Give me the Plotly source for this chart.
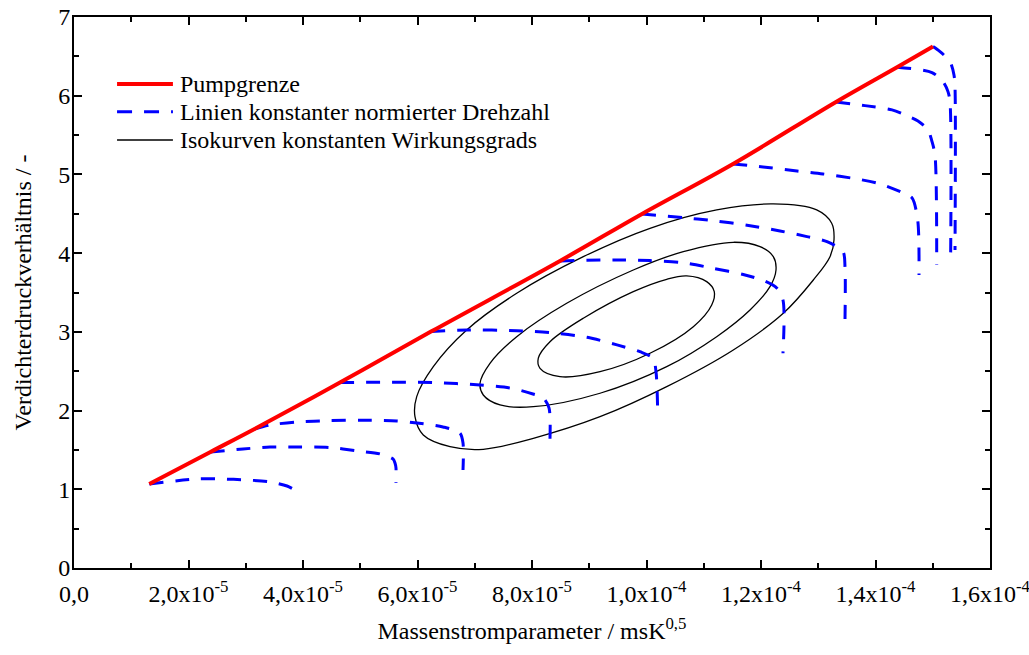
import numpy as np
import plotly.graph_objects as go

E5 = 1e-5  # x values below are given in units of 1e-5

# Pumpgrenze (surge line), through the left end of every speed line
surge_x = [1.315, 2.384, 3.153, 4.646, 6.236, 8.489, 9.921, 11.511, 13.310, 14.376, 15.004]
surge_y = [1.067, 1.474, 1.766, 2.357, 3.003, 3.901, 4.498, 5.133, 5.921, 6.362, 6.624]

# Lines of constant normalised speed
n1_x = [1.315, 2.148, 2.550, 3.022, 3.424, 3.721, 3.860, 3.948]
n1_y = [1.067, 1.131, 1.131, 1.118, 1.093, 1.042, 0.991, 0.966]
n2_x = [2.384, 2.952, 3.424, 3.895, 4.472, 4.943, 5.345, 5.572, 5.607, 5.624, 5.624]
n2_y = [1.474, 1.512, 1.537, 1.537, 1.531, 1.487, 1.449, 1.385, 1.334, 1.271, 1.080]
n3_x = [3.153, 3.424, 3.895, 4.472, 5.048, 5.642, 5.991, 6.445, 6.742, 6.795, 6.795]
n3_y = [1.766, 1.817, 1.855, 1.872, 1.877, 1.868, 1.842, 1.792, 1.715, 1.588, 1.245]
n4_x = [4.646, 5.694, 6.271, 7.092, 7.616, 8.017, 8.192, 8.297, 8.309]
n4_y = [2.357, 2.360, 2.355, 2.325, 2.287, 2.211, 2.164, 2.033, 1.525]
n5_x = [6.236, 6.865, 7.738, 8.314, 8.961, 9.485, 9.886, 10.114, 10.166, 10.195]
n5_y = [3.003, 3.024, 3.015, 2.990, 2.931, 2.834, 2.748, 2.665, 2.494, 2.008]
n6_x = [8.489, 9.485, 10.061, 10.638, 11.162, 11.721, 12.070, 12.279, 12.384, 12.384]
n6_y = [3.901, 3.914, 3.905, 3.879, 3.808, 3.723, 3.643, 3.554, 3.405, 2.728]
n7_x = [9.921, 10.638, 11.162, 11.756, 12.332, 12.803, 13.153, 13.432, 13.467, 13.467]
n7_y = [4.498, 4.451, 4.413, 4.355, 4.282, 4.210, 4.146, 4.019, 3.828, 3.151]
n8_x = [11.511, 12.035, 12.629, 13.083, 13.677, 14.079, 14.480, 14.638, 14.737, 14.760]
n8_y = [5.133, 5.095, 5.044, 5.006, 4.942, 4.880, 4.765, 4.702, 4.422, 3.723]
n9_x = [13.310, 13.817, 14.288, 14.515, 14.742, 14.917, 14.987, 15.039, 15.069]
n9_y = [5.921, 5.874, 5.820, 5.756, 5.680, 5.565, 5.417, 5.248, 3.850]
n10_x = [14.376, 14.987, 15.179, 15.266, 15.301, 15.313]
n10_y = [6.362, 6.294, 6.179, 6.052, 5.925, 4.003]
n11_x = [15.004, 15.127, 15.301, 15.371, 15.389, 15.389]
n11_y = [6.624, 6.560, 6.433, 6.264, 6.099, 4.041]

# Isolines of constant efficiency (closed curves)
eta_outer_x = [12.215, 12.973, 13.235, 13.275, 13.205, 12.914, 12.389, 11.516, 10.353, 9.188,
               8.023, 7.149, 6.568, 6.101, 5.956, 5.986, 6.276, 6.859, 7.733, 8.896, 10.061,
               11.226, 12.215]
eta_outer_y = [4.625, 4.549, 4.380, 4.168, 3.955, 3.659, 3.236, 2.770, 2.304, 1.922,
               1.648, 1.508, 1.541, 1.690, 1.922, 2.177, 2.558, 3.024, 3.490, 3.955, 4.316,
               4.549, 4.625]
eta_mid_x = [11.516, 11.983, 12.215, 12.262, 12.157, 11.808, 11.226, 10.353, 9.188, 8.023,
             7.441, 7.149, 7.092, 7.266, 7.733, 8.606, 9.769, 10.643, 11.516]
eta_mid_y = [4.138, 4.082, 3.955, 3.786, 3.574, 3.278, 2.939, 2.558, 2.220, 2.049,
             2.071, 2.198, 2.347, 2.601, 2.939, 3.363, 3.786, 4.019, 4.138]
eta_inner_x = [10.702, 11.051, 11.184, 11.139, 10.818, 10.061, 9.188, 8.489, 8.140, 8.110,
               8.314, 8.896, 9.769, 10.353, 10.702]
eta_inner_y = [3.710, 3.638, 3.511, 3.342, 3.066, 2.728, 2.494, 2.431, 2.537, 2.665,
               2.875, 3.173, 3.511, 3.668, 3.710]

# Axis ticks
x_tickvals = [0, 2, 4, 6, 8, 10, 12, 14, 16]
x_ticktext = ["0,0", "2,0x10<sup>-5</sup>", "4,0x10<sup>-5</sup>", "6,0x10<sup>-5</sup>",
              "8,0x10<sup>-5</sup>", "1,0x10<sup>-4</sup>", "1,2x10<sup>-4</sup>",
              "1,4x10<sup>-4</sup>", "1,6x10<sup>-4</sup>"]

legend_labels = ["Pumpgrenze", "Linien konstanter normierter Drehzahl",
                 "Isokurven konstanten Wirkungsgrads"]

FONT = "Liberation Serif"
FSIZE = 24
BLUE = "#0000ff"
RED = "#ff0000"

fig = go.Figure()

for ex, ey in [(eta_outer_x, eta_outer_y), (eta_mid_x, eta_mid_y), (eta_inner_x, eta_inner_y)]:
    fig.add_trace(go.Scatter(x=np.array(ex) * E5, y=ey, mode="lines",
                             line=dict(color="black", width=1.3, shape="spline", smoothing=1.0),
                             showlegend=False, hoverinfo="skip"))

speed = [(n1_x, n1_y), (n2_x, n2_y), (n3_x, n3_y), (n4_x, n4_y), (n5_x, n5_y), (n6_x, n6_y),
         (n7_x, n7_y), (n8_x, n8_y), (n9_x, n9_y), (n10_x, n10_y), (n11_x, n11_y)]
for sx, sy in speed:
    fig.add_trace(go.Scatter(x=np.array(sx) * E5, y=sy, mode="lines",
                             line=dict(color=BLUE, width=3, dash="14px,12px",
                                       shape="spline", smoothing=0.8),
                             showlegend=False, hoverinfo="skip"))

fig.add_trace(go.Scatter(x=np.array(surge_x) * E5, y=surge_y, mode="lines",
                         line=dict(color=RED, width=4, shape="spline", smoothing=1.0),
                         showlegend=False, hoverinfo="skip"))

# Hand-placed legend (paper coordinates)
leg_rows = [0.8784, 0.8281, 0.7768]
leg_styles = [dict(color=RED, width=4), dict(color=BLUE, width=3, dash="15px,12px"),
              dict(color="black", width=1.3)]
for yy, st, txt in zip(leg_rows, leg_styles, legend_labels):
    fig.add_shape(type="line", xref="paper", yref="paper", x0=0.047, x1=0.108, y0=yy, y1=yy,
                  line=st)
    fig.add_annotation(xref="paper", yref="paper", x=0.1135, y=yy, text=txt, showarrow=False,
                       xanchor="left", yanchor="middle",
                       font=dict(family=FONT, size=FSIZE, color="black"))

axis_common = dict(showline=True, linecolor="black", linewidth=2, mirror="ticks",
                   ticks="inside", tickcolor="black", tickwidth=1.5, ticklen=8,
                   showgrid=False, zeroline=False, ticklabeloverflow="allow",
                   automargin=False,
                   tickfont=dict(family=FONT, size=FSIZE, color="black"))

fig.update_layout(
    width=1029, height=655,
    margin=dict(l=74, r=39, t=17, b=87, autoexpand=False),
    paper_bgcolor="white", plot_bgcolor="white",
    xaxis=dict(range=[0, 1.6e-4], tickmode="array",
               tickvals=[v * E5 for v in x_tickvals], ticktext=x_ticktext,
               minor=dict(tickmode="linear", tick0=0, dtick=1e-5, ticks="inside",
                          ticklen=5, tickcolor="black", tickwidth=1.5),
               title=dict(text="Massenstromparameter / msK<sup>0,5</sup>",
                          font=dict(family=FONT, size=FSIZE, color="black"), standoff=16),
               ticklabelstandoff=3,
               **axis_common),
    yaxis=dict(range=[0, 7], tickmode="linear", tick0=0, dtick=1,
               minor=dict(tickmode="linear", tick0=0, dtick=0.5, ticks="inside",
                          ticklen=5, tickcolor="black", tickwidth=1.5),
               title=dict(text="Verdichterdruckverhältnis / -",
                          font=dict(family=FONT, size=FSIZE, color="black"), standoff=20),
               ticklabelstandoff=-3,
               **axis_common),
)

fig.write_html("out.html")
